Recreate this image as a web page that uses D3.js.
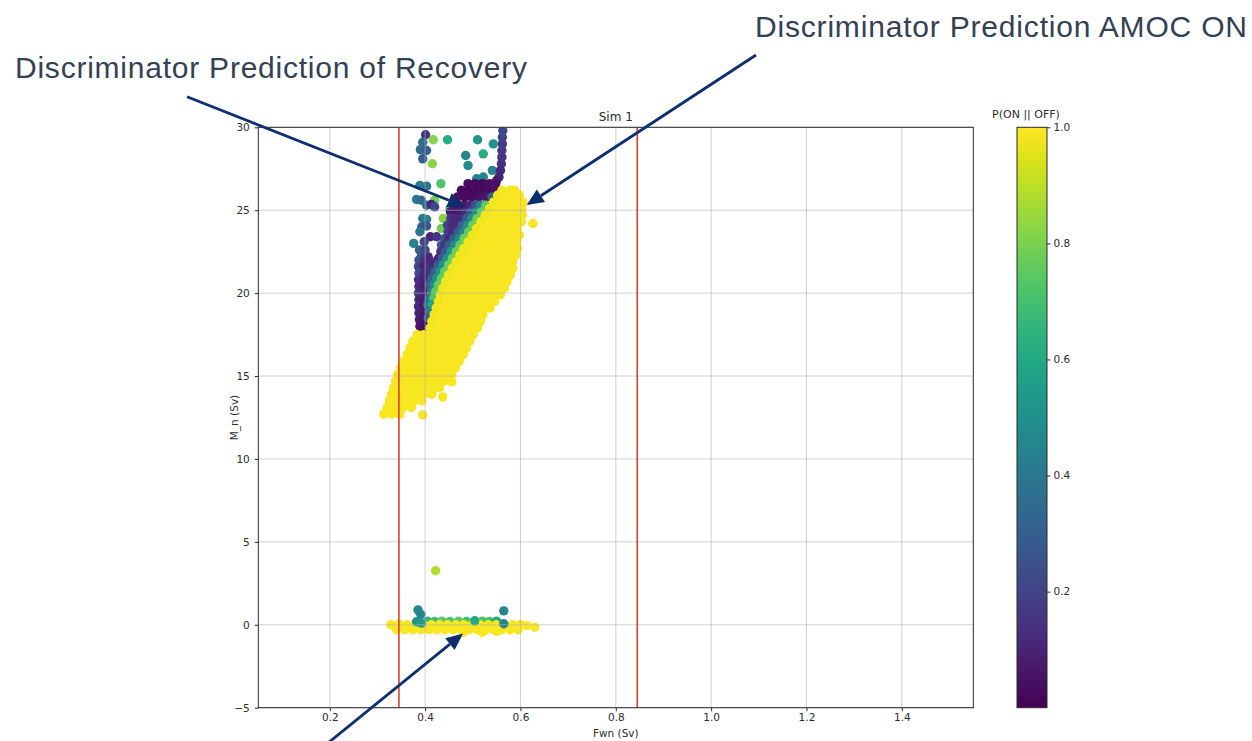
<!DOCTYPE html>
<html>
<head>
<meta charset="utf-8">
<script src="https://cdn.jsdelivr.net/npm/d3@7"></script>
<style>
  body { margin: 0; background: #fff; }
  svg { display: block; }
</style>
</head>
<body>
<svg id="chart" width="1252" height="741"></svg>
<script>
// ---- Data: each point is [Fwn (Sv), M_n (Sv), P(ON || OFF)] ----

// Scattered samples above the main branch
const upperScatter = [
  [0.417, 29.25, 0.82], [0.447, 29.25, 0.62], [0.510, 29.25, 0.50], [0.543, 29.0, 0.50],
  [0.485, 28.3, 0.45], [0.522, 28.4, 0.62], [0.415, 27.8, 0.82], [0.490, 27.7, 0.48],
  [0.508, 26.9, 0.45], [0.522, 27.0, 0.45], [0.541, 27.4, 0.45], [0.433, 26.6, 0.72],
  [0.420, 25.6, 0.78], [0.452, 25.1, 0.75], [0.438, 24.5, 0.82], [0.434, 23.9, 0.78]
];

// Column of low-probability samples near Fwn = 0.4
const recoveryColumn = [
  [0.401, 29.55, 0.15], [0.395, 29.1, 0.35], [0.390, 28.65, 0.35], [0.403, 28.6, 0.30],
  [0.395, 28.1, 0.30], [0.389, 26.5, 0.42], [0.403, 26.45, 0.38], [0.382, 25.65, 0.40],
  [0.392, 25.6, 0.35], [0.403, 25.3, 0.38], [0.413, 25.35, 0.10], [0.420, 25.2, 0.20],
  [0.395, 24.5, 0.40], [0.403, 24.45, 0.42], [0.393, 24.0, 0.30], [0.403, 24.05, 0.25],
  [0.389, 23.7, 0.40], [0.411, 23.4, 0.10], [0.424, 23.4, 0.15], [0.376, 23.0, 0.45],
  [0.398, 23.1, 0.20], [0.392, 22.2, 0.22], [0.406, 22.2, 0.12],
  [0.388, 22.6, 0.30], [0.400, 22.6, 0.20],
  [0.387, 22.0, 0.25], [0.398, 22.0, 0.15], [0.409, 22.0, 0.12],
  [0.386, 21.6, 0.20], [0.397, 21.6, 0.10], [0.408, 21.6, 0.15],
  [0.387, 21.2, 0.25], [0.398, 21.2, 0.12], [0.409, 21.2, 0.10],
  [0.386, 20.8, 0.15], [0.397, 20.8, 0.10], [0.408, 20.8, 0.12],
  [0.387, 20.4, 0.12], [0.398, 20.4, 0.08], [0.409, 20.4, 0.10],
  [0.386, 20.0, 0.15], [0.397, 20.0, 0.10],
  [0.387, 19.6, 0.10], [0.398, 19.6, 0.08],
  [0.386, 19.2, 0.12], [0.397, 19.2, 0.06],
  [0.387, 18.8, 0.10], [0.398, 18.8, 0.06],
  [0.388, 18.4, 0.08], [0.399, 18.4, 0.05],
  [0.389, 18.0, 0.06], [0.400, 18.0, 0.05], [0.395, 17.8, 0.05]
];

// Upper column near Fwn = 0.56 and the dark cap of the recovery branch
const recoveryCap = [
  [0.563, 29.8, 0.22], [0.562, 29.4, 0.20], [0.562, 29.0, 0.18], [0.561, 28.6, 0.18],
  [0.561, 28.2, 0.15], [0.560, 27.8, 0.15], [0.558, 27.4, 0.12], [0.555, 27.0, 0.10],
  [0.550, 26.8, 0.08],
  [0.490, 26.6, 0.03], [0.505, 26.6, 0.03], [0.520, 26.6, 0.03], [0.535, 26.6, 0.04], [0.548, 26.6, 0.05],
  [0.476, 26.2, 0.03], [0.491, 26.2, 0.02], [0.506, 26.2, 0.02], [0.521, 26.2, 0.03], [0.536, 26.2, 0.03], [0.549, 26.2, 0.04],
  [0.468, 25.8, 0.04], [0.483, 25.8, 0.03], [0.498, 25.8, 0.03], [0.513, 25.8, 0.04], [0.528, 25.8, 0.06], [0.540, 25.8, 0.30]
];

// Transition band between the recovery branch and the ON branch
const transitionBand = [
  [0.460, 25.3, 0.05], [0.470, 25.3, 0.05], [0.482, 25.3, 0.06], [0.494, 25.3, 0.10], [0.505, 25.3, 0.25], [0.516, 25.3, 0.45], [0.527, 25.3, 0.75],
  [0.453, 24.9, 0.08], [0.463, 24.9, 0.06], [0.474, 24.9, 0.08], [0.485, 24.9, 0.12], [0.496, 24.9, 0.28], [0.507, 24.9, 0.48], [0.518, 24.9, 0.76],
  [0.454, 24.5, 0.15], [0.465, 24.5, 0.12], [0.476, 24.5, 0.12], [0.487, 24.5, 0.30], [0.498, 24.5, 0.50], [0.509, 24.5, 0.78],
  [0.447, 24.1, 0.20], [0.457, 24.1, 0.12], [0.467, 24.1, 0.12], [0.478, 24.1, 0.30], [0.489, 24.1, 0.50], [0.500, 24.1, 0.78],
  [0.448, 23.7, 0.18], [0.458, 23.7, 0.12], [0.469, 23.7, 0.28], [0.480, 23.7, 0.45], [0.491, 23.7, 0.75],
  [0.441, 23.3, 0.25], [0.450, 23.3, 0.12], [0.460, 23.3, 0.28], [0.471, 23.3, 0.48], [0.482, 23.3, 0.78],
  [0.434, 22.9, 0.30], [0.441, 22.9, 0.15], [0.451, 22.9, 0.30], [0.462, 22.9, 0.48], [0.473, 22.9, 0.76],
  [0.433, 22.5, 0.15], [0.443, 22.5, 0.28], [0.454, 22.5, 0.50], [0.465, 22.5, 0.78],
  [0.428, 22.1, 0.12], [0.436, 22.1, 0.28], [0.446, 22.1, 0.50], [0.457, 22.1, 0.78],
  [0.419, 21.7, 0.12], [0.428, 21.7, 0.30], [0.438, 21.7, 0.50], [0.449, 21.7, 0.78],
  [0.412, 21.3, 0.15], [0.421, 21.3, 0.32], [0.431, 21.3, 0.50], [0.441, 21.3, 0.76],
  [0.414, 20.9, 0.30], [0.424, 20.9, 0.50], [0.434, 20.9, 0.76],
  [0.409, 20.5, 0.30], [0.418, 20.5, 0.48], [0.428, 20.5, 0.76],
  [0.413, 20.1, 0.42], [0.422, 20.1, 0.75],
  [0.409, 19.7, 0.40], [0.418, 19.7, 0.72],
  [0.405, 19.3, 0.35], [0.414, 19.3, 0.60],
  [0.410, 18.9, 0.45], [0.406, 18.5, 0.30]
];

// ON branch (high probability)
const onBranch = [
  [0.313, 12.7, 0.99], [0.330, 12.7, 0.99], [0.347, 12.7, 0.99], [0.395, 12.66, 0.99],
  [0.320, 13.1, 0.99], [0.337, 13.1, 0.99], [0.354, 13.1, 0.99], [0.371, 13.1, 0.99],
  [0.325, 13.5, 0.99], [0.342, 13.5, 0.99], [0.359, 13.5, 0.99], [0.376, 13.5, 0.99], [0.393, 13.5, 0.99],
  [0.329, 13.9, 0.99], [0.346, 13.9, 0.99], [0.363, 13.9, 0.99], [0.380, 13.9, 0.99], [0.397, 13.9, 0.99], [0.414, 13.9, 0.99], [0.437, 13.74, 0.99],
  [0.334, 14.3, 0.99], [0.351, 14.3, 0.99], [0.368, 14.3, 0.99], [0.385, 14.3, 0.99], [0.402, 14.3, 0.99], [0.419, 14.3, 0.99], [0.430, 14.3, 0.99],
  [0.338, 14.7, 0.99], [0.355, 14.7, 0.99], [0.372, 14.7, 0.99], [0.389, 14.7, 0.99], [0.406, 14.7, 0.99], [0.423, 14.7, 0.99], [0.440, 14.7, 0.99], [0.456, 14.65, 0.99],
  [0.343, 15.1, 0.99], [0.360, 15.1, 0.99], [0.377, 15.1, 0.99], [0.394, 15.1, 0.99], [0.411, 15.1, 0.99], [0.428, 15.1, 0.99], [0.445, 15.1, 0.99], [0.456, 15.1, 0.99],
  [0.349, 15.5, 0.99], [0.366, 15.5, 0.99], [0.383, 15.5, 0.99], [0.400, 15.5, 0.99], [0.417, 15.5, 0.99], [0.434, 15.5, 0.99], [0.451, 15.5, 0.99], [0.464, 15.5, 0.99],
  [0.356, 15.9, 0.99], [0.373, 15.9, 0.99], [0.390, 15.9, 0.99], [0.407, 15.9, 0.99], [0.424, 15.9, 0.99], [0.441, 15.9, 0.99], [0.458, 15.9, 0.99], [0.472, 15.9, 0.99],
  [0.362, 16.3, 0.99], [0.379, 16.3, 0.99], [0.396, 16.3, 0.99], [0.413, 16.3, 0.99], [0.430, 16.3, 0.99], [0.447, 16.3, 0.99], [0.464, 16.3, 0.99], [0.480, 16.3, 0.99],
  [0.368, 16.7, 0.99], [0.385, 16.7, 0.99], [0.402, 16.7, 0.99], [0.419, 16.7, 0.99], [0.436, 16.7, 0.99], [0.453, 16.7, 0.99], [0.470, 16.7, 0.99], [0.487, 16.7, 0.99],
  [0.374, 17.1, 0.99], [0.391, 17.1, 0.99], [0.408, 17.1, 0.99], [0.425, 17.1, 0.99], [0.442, 17.1, 0.99], [0.459, 17.1, 0.99], [0.476, 17.1, 0.99], [0.494, 17.1, 0.99],
  [0.383, 17.5, 0.99], [0.397, 17.5, 0.99], [0.414, 17.5, 0.99], [0.431, 17.5, 0.99], [0.448, 17.5, 0.99], [0.465, 17.5, 0.99], [0.482, 17.5, 0.99], [0.501, 17.5, 0.99],
  [0.410, 17.9, 0.99], [0.427, 17.9, 0.99], [0.444, 17.9, 0.99], [0.461, 17.9, 0.99], [0.478, 17.9, 0.99], [0.495, 17.9, 0.99], [0.510, 17.9, 0.99],
  [0.414, 18.3, 0.98], [0.431, 18.3, 0.99], [0.448, 18.3, 0.99], [0.465, 18.3, 0.99], [0.482, 18.3, 0.99], [0.499, 18.3, 0.99], [0.516, 18.3, 0.99],
  [0.419, 18.7, 0.98], [0.436, 18.7, 0.99], [0.453, 18.7, 0.99], [0.470, 18.7, 0.99], [0.487, 18.7, 0.99], [0.504, 18.7, 0.99], [0.521, 18.7, 0.99],
  [0.423, 19.1, 0.98], [0.440, 19.1, 0.99], [0.457, 19.1, 0.99], [0.474, 19.1, 0.99], [0.491, 19.1, 0.99], [0.508, 19.1, 0.99], [0.525, 19.1, 0.99], [0.536, 19.1, 0.99],
  [0.428, 19.5, 0.98], [0.445, 19.5, 0.99], [0.462, 19.5, 0.99], [0.479, 19.5, 0.99], [0.496, 19.5, 0.99], [0.513, 19.5, 0.99], [0.530, 19.5, 0.99], [0.546, 19.5, 0.99],
  [0.432, 19.9, 0.98], [0.449, 19.9, 0.99], [0.466, 19.9, 0.99], [0.483, 19.9, 0.99], [0.500, 19.9, 0.99], [0.517, 19.9, 0.99], [0.534, 19.9, 0.99], [0.551, 19.9, 0.99], [0.558, 19.9, 0.99],
  [0.437, 20.3, 0.98], [0.454, 20.3, 0.99], [0.471, 20.3, 0.99], [0.488, 20.3, 0.99], [0.505, 20.3, 0.99], [0.522, 20.3, 0.99], [0.539, 20.3, 0.99], [0.556, 20.3, 0.99], [0.566, 20.3, 0.99],
  [0.443, 20.7, 0.98], [0.460, 20.7, 0.99], [0.477, 20.7, 0.99], [0.494, 20.7, 0.99], [0.511, 20.7, 0.99], [0.528, 20.7, 0.99], [0.545, 20.7, 0.99], [0.562, 20.7, 0.99], [0.572, 20.7, 0.99],
  [0.449, 21.1, 0.98], [0.466, 21.1, 0.99], [0.483, 21.1, 0.99], [0.500, 21.1, 0.99], [0.517, 21.1, 0.99], [0.534, 21.1, 0.99], [0.551, 21.1, 0.99], [0.568, 21.1, 0.99], [0.579, 21.1, 0.99],
  [0.457, 21.5, 0.98], [0.474, 21.5, 0.99], [0.491, 21.5, 0.99], [0.508, 21.5, 0.99], [0.525, 21.5, 0.99], [0.542, 21.5, 0.99], [0.559, 21.5, 0.99], [0.576, 21.5, 0.99], [0.584, 21.5, 0.99],
  [0.465, 21.9, 0.98], [0.482, 21.9, 0.99], [0.499, 21.9, 0.99], [0.516, 21.9, 0.99], [0.533, 21.9, 0.99], [0.550, 21.9, 0.99], [0.567, 21.9, 0.99], [0.584, 21.9, 0.99],
  [0.473, 22.3, 0.98], [0.490, 22.3, 0.99], [0.507, 22.3, 0.99], [0.524, 22.3, 0.99], [0.541, 22.3, 0.99], [0.558, 22.3, 0.99], [0.575, 22.3, 0.99], [0.590, 22.3, 0.99],
  [0.481, 22.7, 0.98], [0.498, 22.7, 0.99], [0.515, 22.7, 0.99], [0.532, 22.7, 0.99], [0.549, 22.7, 0.99], [0.566, 22.7, 0.99], [0.583, 22.7, 0.99], [0.594, 22.7, 0.99],
  [0.490, 23.1, 0.98], [0.507, 23.1, 0.99], [0.524, 23.1, 0.99], [0.541, 23.1, 0.99], [0.558, 23.1, 0.99], [0.575, 23.1, 0.99], [0.592, 23.1, 0.99],
  [0.499, 23.5, 0.98], [0.516, 23.5, 0.99], [0.533, 23.5, 0.99], [0.550, 23.5, 0.99], [0.567, 23.5, 0.99], [0.584, 23.5, 0.99], [0.598, 23.5, 0.99],
  [0.508, 23.9, 0.98], [0.525, 23.9, 0.99], [0.542, 23.9, 0.99], [0.559, 23.9, 0.99], [0.576, 23.9, 0.99], [0.593, 23.9, 0.99],
  [0.517, 24.3, 0.98], [0.534, 24.3, 0.99], [0.551, 24.3, 0.99], [0.568, 24.3, 0.99], [0.585, 24.3, 0.99], [0.602, 24.3, 0.99], [0.626, 24.2, 0.99],
  [0.526, 24.7, 0.98], [0.543, 24.7, 0.99], [0.560, 24.7, 0.99], [0.577, 24.7, 0.99], [0.594, 24.7, 0.99], [0.604, 24.7, 0.99],
  [0.535, 25.1, 0.98], [0.552, 25.1, 0.99], [0.569, 25.1, 0.99], [0.586, 25.1, 0.99], [0.603, 25.1, 0.99],
  [0.544, 25.5, 0.98], [0.561, 25.5, 0.99], [0.578, 25.5, 0.99], [0.595, 25.5, 0.99], [0.605, 25.5, 0.99],
  [0.552, 25.9, 0.98], [0.569, 25.9, 0.99], [0.586, 25.9, 0.99], [0.598, 25.9, 0.99],
  [0.561, 26.2, 0.98], [0.578, 26.2, 0.99], [0.588, 26.2, 0.99]
];

// OFF branch near M_n = 0: mixed samples peeking out beneath the band
const offMixedUnder = [
  [0.405, 0.22, 0.65], [0.420, 0.20, 0.70], [0.435, 0.22, 0.75], [0.452, 0.20, 0.72],
  [0.470, 0.22, 0.75], [0.487, 0.20, 0.70], [0.520, 0.22, 0.72], [0.535, 0.20, 0.70], [0.550, 0.22, 0.60]
];

// OFF branch near M_n = 0 (high probability)
const offBranch = [
  [0.328, 0.0, 0.99], [0.345, 0.05, 0.99], [0.362, 0.0, 0.99], [0.379, 0.05, 0.99], [0.396, 0.0, 0.99],
  [0.413, 0.0, 0.99], [0.430, 0.0, 0.99], [0.447, 0.0, 0.99], [0.464, 0.0, 0.99], [0.481, 0.0, 0.99],
  [0.498, 0.0, 0.99], [0.515, 0.0, 0.99], [0.532, 0.0, 0.99], [0.549, 0.0, 0.99], [0.566, 0.0, 0.99],
  [0.583, 0.0, 0.99], [0.600, 0.0, 0.99], [0.613, -0.05, 0.99], [0.630, -0.15, 0.99],
  [0.340, -0.3, 0.99], [0.357, -0.3, 0.99], [0.374, -0.3, 0.99], [0.391, -0.3, 0.99], [0.408, -0.3, 0.99],
  [0.425, -0.3, 0.99], [0.442, -0.3, 0.99], [0.459, -0.3, 0.99], [0.476, -0.3, 0.99], [0.493, -0.3, 0.99],
  [0.510, -0.3, 0.99], [0.527, -0.3, 0.99], [0.544, -0.3, 0.99], [0.561, -0.3, 0.99], [0.578, -0.3, 0.99],
  [0.595, -0.3, 0.99], [0.480, -0.45, 0.99], [0.520, -0.45, 0.99], [0.550, -0.4, 0.99]
];

// OFF branch outliers drawn over the band
const offMixedOver = [
  [0.385, 0.9, 0.45], [0.391, 0.63, 0.45], [0.565, 0.84, 0.45], [0.422, 3.26, 0.88],
  [0.382, 0.18, 0.50], [0.392, 0.10, 0.55], [0.504, 0.24, 0.60], [0.565, 0.06, 0.45]
];

const xTicks = [0.2, 0.4, 0.6, 0.8, 1.0, 1.2, 1.4];
const yTicks = [-5, 0, 5, 10, 15, 20, 25, 30];
const colorTicks = [0.2, 0.4, 0.6, 0.8, 1.0];
const thresholds = [0.345, 0.845];

// Callouts: label text with its tail point, arrow tip in data units
const callouts = [
  { text: 'Discriminator Prediction of Recovery', tx: 15, ty: 78, width: 512, tail: [187, 96.7], tip: [0.483, 25.22] },
  { text: 'Discriminator Prediction AMOC ON', tx: 755, ty: 37, width: 492, tail: [756, 55], tip: [0.613, 25.31] },
  { text: '', tail: [312, 756], tip: [0.4797, -0.52] }
];

// ---- Layout ----
const svg = d3.select('#chart');
const plot = { left: 258.3, right: 973.3, top: 127.3, bottom: 707.7 };
const bar = { left: 1017, right: 1047 };
const axisFont = 'DejaVu Sans, sans-serif';
const ink = '#2b2b2b';

const x = d3.scaleLinear().domain([0.05, 1.55]).range([plot.left, plot.right]);
const y = d3.scaleLinear().domain([-5, 30]).range([plot.bottom, plot.top]);
const color = d3.scaleSequential(d3.interpolateViridis).domain([0, 1]);

const defs = svg.append('defs');
defs.append('clipPath').attr('id', 'plotClip').append('rect')
  .attr('x', plot.left).attr('y', plot.top)
  .attr('width', plot.right - plot.left).attr('height', plot.bottom - plot.top);

svg.append('rect').attr('width', 1252).attr('height', 741).attr('fill', '#fff');

// ---- Scatter ----
const pts = svg.append('g').attr('clip-path', 'url(#plotClip)');
[upperScatter, recoveryColumn, recoveryCap, transitionBand, onBranch, offMixedUnder, offBranch, offMixedOver]
  .forEach(layer => {
    pts.append('g').selectAll('circle').data(layer).join('circle')
      .attr('cx', d => x(d[0]))
      .attr('cy', d => y(d[1]))
      .attr('r', 4.7)
      .attr('fill', d => color(d[2]));
  });

// ---- Grid ----
const grid = svg.append('g').attr('stroke', '#b0b0b0').attr('stroke-opacity', 0.6).attr('stroke-width', 1);
grid.selectAll('.gx').data(xTicks).join('line')
  .attr('x1', d => x(d)).attr('x2', d => x(d)).attr('y1', plot.top).attr('y2', plot.bottom);
grid.selectAll('.gy').data(yTicks).join('line')
  .attr('x1', plot.left).attr('x2', plot.right).attr('y1', d => y(d)).attr('y2', d => y(d));

// ---- Threshold lines ----
svg.append('g').selectAll('line').data(thresholds).join('line')
  .attr('x1', d => x(d)).attr('x2', d => x(d))
  .attr('y1', plot.top).attr('y2', plot.bottom)
  .attr('stroke', '#d9412f').attr('stroke-width', 1.6);

// ---- Frame ----
svg.append('rect')
  .attr('x', plot.left).attr('y', plot.top)
  .attr('width', plot.right - plot.left).attr('height', plot.bottom - plot.top)
  .attr('fill', 'none').attr('stroke', ink).attr('stroke-width', 1);

// ---- Axes ----
function styleAxis(g) {
  g.select('.domain').remove();
  g.attr('font-family', axisFont).attr('font-size', 10.5);
  g.selectAll('.tick line').attr('stroke', ink);
  g.selectAll('.tick text').attr('fill', ink);
}
svg.append('g').attr('transform', `translate(0,${plot.bottom})`)
  .call(d3.axisBottom(x).tickValues(xTicks).tickFormat(d3.format('.1f')).tickSize(3.5).tickPadding(2.5))
  .call(styleAxis);
svg.append('g').attr('transform', `translate(${plot.left},0)`)
  .call(d3.axisLeft(y).tickValues(yTicks).tickFormat(d3.format('d')).tickSize(3.5).tickPadding(5))
  .call(styleAxis);

svg.append('text').attr('x', (plot.left + plot.right) / 2).attr('y', 737)
  .attr('text-anchor', 'middle').attr('font-family', axisFont).attr('font-size', 10.5).attr('fill', ink)
  .text('Fwn (Sv)');
svg.append('text').attr('transform', `translate(238,${(plot.top + plot.bottom) / 2}) rotate(-90)`)
  .attr('text-anchor', 'middle').attr('font-family', axisFont).attr('font-size', 10.5).attr('fill', ink)
  .text('M_n (Sv)');
svg.append('text').attr('x', (plot.left + plot.right) / 2).attr('y', 121)
  .attr('text-anchor', 'middle').attr('font-family', axisFont).attr('font-size', 12).attr('fill', ink)
  .text('Sim 1');

// ---- Colorbar ----
const cb = d3.scaleLinear().domain([0, 1]).range([plot.bottom, plot.top]);
const grad = defs.append('linearGradient').attr('id', 'viridisBar')
  .attr('x1', 0).attr('y1', 1).attr('x2', 0).attr('y2', 0);
d3.range(0, 1.0001, 0.05).forEach(t => {
  grad.append('stop').attr('offset', t).attr('stop-color', color(t));
});
svg.append('rect')
  .attr('x', bar.left).attr('y', plot.top)
  .attr('width', bar.right - bar.left).attr('height', plot.bottom - plot.top)
  .attr('fill', 'url(#viridisBar)').attr('stroke', ink).attr('stroke-width', 1);
svg.append('g').attr('transform', `translate(${bar.right},0)`)
  .call(d3.axisRight(cb).tickValues(colorTicks).tickFormat(d3.format('.1f')).tickSize(3.5).tickPadding(3))
  .call(styleAxis);
svg.append('text').attr('x', 1026).attr('y', 118)
  .attr('text-anchor', 'middle').attr('font-family', axisFont).attr('font-size', 11).attr('fill', ink)
  .text('P(ON || OFF)');

// ---- Callouts ----
const arrowColor = '#0d2f6f';
const notes = svg.append('g');
callouts.forEach(c => {
  const tipX = x(c.tip[0]), tipY = y(c.tip[1]);
  const [sx, sy] = c.tail;
  const ang = Math.atan2(tipY - sy, tipX - sx);
  const headLen = 17, headHalf = 7.5;
  const bx = tipX - headLen * Math.cos(ang), by = tipY - headLen * Math.sin(ang);
  notes.append('line')
    .attr('x1', sx).attr('y1', sy).attr('x2', bx).attr('y2', by)
    .attr('stroke', arrowColor).attr('stroke-width', 2.8);
  const px = -Math.sin(ang) * headHalf, py = Math.cos(ang) * headHalf;
  notes.append('polygon')
    .attr('points', [[tipX, tipY], [bx + px, by + py], [bx - px, by - py]].map(p => p.join(',')).join(' '))
    .attr('fill', arrowColor);
  if (c.text) {
    notes.append('text')
      .attr('x', c.tx).attr('y', c.ty)
      .attr('font-family', 'Liberation Sans, Arial, sans-serif').attr('font-size', 30)
      .attr('fill', '#344054')
      .attr('textLength', c.width).attr('lengthAdjust', 'spacing')
      .text(c.text);
  }
});
</script>
</body>
</html>
